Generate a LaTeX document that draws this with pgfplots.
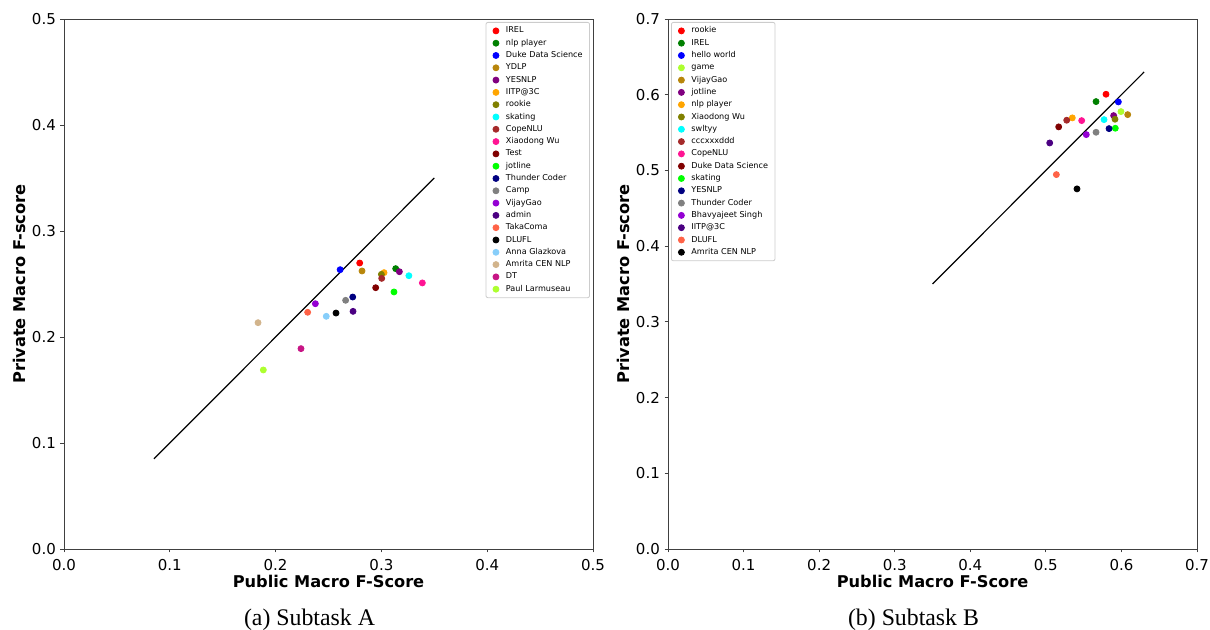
\documentclass[border=0pt]{standalone}
\usepackage{pgfplots}
\pgfplotsset{compat=1.18}
\usepackage{fontspec}
\setmainfont{DejaVu Sans}
\newfontfamily\capfont{Liberation Serif}

% matplotlib named colours
\definecolor{mred}{HTML}{FF0000}
\definecolor{mgreen}{HTML}{008000}
\definecolor{mblue}{HTML}{0000FF}
\definecolor{dgold}{HTML}{B8860B}
\definecolor{mpurple}{HTML}{800080}
\definecolor{morange}{HTML}{FFA500}
\definecolor{molive}{HTML}{808000}
\definecolor{mcyan}{HTML}{00FFFF}
\definecolor{mbrown}{HTML}{A52A2A}
\definecolor{dpink}{HTML}{FF1493}
\definecolor{mmaroon}{HTML}{800000}
\definecolor{mlime}{HTML}{00FF00}
\definecolor{mnavy}{HTML}{000080}
\definecolor{mgray}{HTML}{808080}
\definecolor{dviolet}{HTML}{9400D3}
\definecolor{mindigo}{HTML}{4B0082}
\definecolor{mtomato}{HTML}{FF6347}
\definecolor{lsky}{HTML}{87CEFA}
\definecolor{mtan}{HTML}{D2B48C}
\definecolor{mvred}{HTML}{C71585}
\definecolor{gyellow}{HTML}{ADFF2F}

\newcommand{\pt}[4]{\addplot[only marks, mark=*, mark size=1.5pt, color=#1] coordinates {(#2,#3)}; \addlegendentry{#4}}

\pgfplotsset{
  panel/.style={
    scale only axis, width=264.5pt, height=265pt,
    xmin=0, ymin=0,
    tick align=outside, tick pos=left,
    major tick length=1.75pt,
    axis line style={black!75, line width=0.4pt},
    tick style={black!75, line width=0.4pt},
    /pgf/number format/.cd, fixed, fixed zerofill, precision=1, assume math mode=true, /pgfplots/.cd,
    ticklabel style={font=\fontsize{7.5}{9}\selectfont},
    yticklabel style={xshift=1.2pt},
    label style={font=\bfseries\fontsize{8.1}{9.5}\selectfont},
    xlabel={Public Macro F-Score},
    ylabel={Private Macro F-score},
    xlabel style={yshift=4.5pt},
    ylabel style={yshift=-3.5pt},
    legend cell align=left,
    legend style={font=\fontsize{4.05}{4.6}\selectfont, draw=black!20, rounded corners=1pt,
      nodes={inner sep=0pt, text height=3.1pt, text depth=1pt},
      row sep=2.05pt, column sep=3.5pt, inner xsep=3.5pt, inner ysep=2.2pt},
  }
}

\begin{document}
\begin{tikzpicture}
\path[use as bounding box] (-32pt,-40.5pt) rectangle (573pt,274.5pt);

\begin{axis}[panel, name=A, at={(0,0)}, anchor=south west,
  xmax=0.5, ymax=0.5, xtick={0,0.1,...,0.5}, ytick={0,0.1,...,0.5},
  legend style={at={(1,1)}, anchor=north east, xshift=-1.5pt, yshift=-1.5pt}]
\addplot[black, line width=0.6pt, forget plot] coordinates {(0.085,0.085) (0.35,0.35)};
\pt{mred}{0.2795}{0.2698}{IREL}
\pt{mgreen}{0.3135}{0.2645}{nlp player}
\pt{mblue}{0.261}{0.2635}{Duke Data Science}
\pt{dgold}{0.2817}{0.2623}{YDLP}
\pt{mpurple}{0.317}{0.2616}{YESNLP}
\pt{morange}{0.3025}{0.2607}{IITP@3C}
\pt{molive}{0.300}{0.2591}{rookie}
\pt{mcyan}{0.326}{0.2578}{skating}
\pt{mbrown}{0.3003}{0.2553}{CopeNLU}
\pt{dpink}{0.3387}{0.251}{Xiaodong Wu}
\pt{mmaroon}{0.2946}{0.2465}{Test}
\pt{mlime}{0.3119}{0.2425}{jotline}
\pt{mnavy}{0.2729}{0.2377}{Thunder Coder}
\pt{mgray}{0.2662}{0.2346}{Camp}
\pt{dviolet}{0.2376}{0.2314}{VijayGao}
\pt{mindigo}{0.2732}{0.2242}{admin}
\pt{mtomato}{0.2303}{0.2233}{TakaComa}
\pt{black}{0.2571}{0.2226}{DLUFL}
\pt{lsky}{0.2479}{0.2195}{Anna Glazkova}
\pt{mtan}{0.1834}{0.2135}{Amrita CEN NLP}
\pt{mvred}{0.224}{0.189}{DT}
\pt{gyellow}{0.1884}{0.1689}{Paul Larmuseau}
\end{axis}

\begin{axis}[panel, name=B, at={(302pt,0)}, anchor=south west,
  xmax=0.7, ymax=0.7, xtick={0,0.1,...,0.7}, ytick={0,0.1,...,0.7},
  legend style={at={(0,1)}, anchor=north west, xshift=1.5pt, yshift=-1.5pt}]
\addplot[black, line width=0.6pt, forget plot] coordinates {(0.35,0.35) (0.63,0.63)};
\pt{mred}{0.5796}{0.6006}{rookie}
\pt{mgreen}{0.5664}{0.5909}{IREL}
\pt{mblue}{0.5959}{0.5905}{hello world}
\pt{gyellow}{0.5994}{0.5777}{game}
\pt{dgold}{0.6083}{0.5737}{VijayGao}
\pt{mpurple}{0.5897}{0.5724}{jotline}
\pt{morange}{0.535}{0.5694}{nlp player}
\pt{molive}{0.5915}{0.5676}{Xiaodong Wu}
\pt{mcyan}{0.577}{0.5671}{swltyy}
\pt{mbrown}{0.5276}{0.5663}{cccxxxddd}
\pt{dpink}{0.5474}{0.5658}{CopeNLU}
\pt{mmaroon}{0.517}{0.5575}{Duke Data Science}
\pt{mlime}{0.5919}{0.5557}{skating}
\pt{mnavy}{0.5836}{0.5552}{YESNLP}
\pt{mgray}{0.5664}{0.5504}{Thunder Coder}
\pt{dviolet}{0.5535}{0.5473}{Bhavyajeet Singh}
\pt{mindigo}{0.5051}{0.5363}{IITP@3C}
\pt{mtomato}{0.5139}{0.4945}{DLUFL}
\pt{black}{0.5412}{0.4756}{Amrita CEN NLP}
\end{axis}

\node[font=\capfont\fontsize{11.9}{14}\selectfont] at ([xshift=-9.5pt,yshift=-35.5pt]A.south) {(a) Subtask A};
\node[font=\capfont\fontsize{11.9}{14}\selectfont] at ([xshift=-9.5pt,yshift=-35.5pt]B.south) {(b) Subtask B};
\end{tikzpicture}
\end{document}
